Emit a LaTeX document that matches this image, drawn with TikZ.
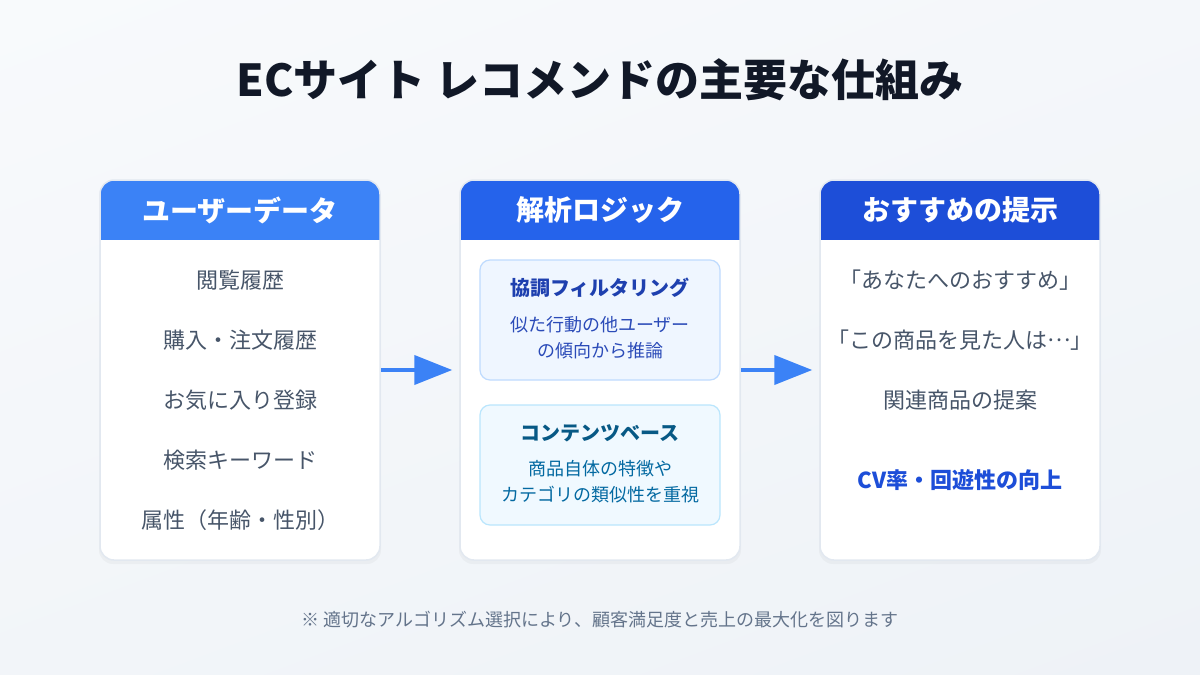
\documentclass[tikz,border=0pt]{standalone}
\usepackage{fontspec}
\setmainfont{Noto Sans CJK JP}
\usetikzlibrary{arrows.meta,shadings}
\definecolor{bgA}{HTML}{F8FAFC}
\definecolor{bgB}{HTML}{EEF2F7}
\definecolor{titlec}{HTML}{111827}
\definecolor{hdrA}{HTML}{3B82F6}
\definecolor{hdrB}{HTML}{2563EB}
\definecolor{hdrC}{HTML}{1D4ED8}
\definecolor{cardborder}{HTML}{E2E8F0}
\definecolor{itemc}{HTML}{475569}
\definecolor{noteC}{HTML}{64748B}
\definecolor{boxAfill}{HTML}{EFF6FF}
\definecolor{boxAline}{HTML}{BFDBFE}
\definecolor{boxAtitle}{HTML}{1E40AF}
\definecolor{boxAtext}{HTML}{2B4BB8}
\definecolor{boxBfill}{HTML}{F0F9FF}
\definecolor{boxBline}{HTML}{BAE6FD}
\definecolor{boxBtitle}{HTML}{075985}
\definecolor{boxBtext}{HTML}{0369A1}
\definecolor{arrowc}{HTML}{3B82F6}
\definecolor{accent}{HTML}{1D4ED8}
\tikzset{
  card/.style={draw=cardborder, line width=1.5pt, fill=white, rounded corners=14pt,
    minimum width=280pt, minimum height=380pt, inner sep=0pt},
  hdrtext/.style={text=white, font=\fontsize{28}{32}\selectfont\bfseries},
  item/.style={text=itemc, font=\fontsize{22}{26}\selectfont},
  innerbox/.style={line width=1.2pt, rounded corners=10pt, minimum width=240pt,
    minimum height=120pt, inner sep=0pt},
  boxtitle/.style={font=\fontsize{20}{24}\selectfont\bfseries},
  boxdesc/.style={font=\fontsize{18}{26}\selectfont, align=center},
  flow/.style={draw=arrowc, line width=4pt, -{Triangle[length=38pt,width=29pt]}, shorten >=7pt}
}
\begin{document}
\begin{tikzpicture}[x=1pt,y=-1pt]
\useasboundingbox (0,0) rectangle (1200,675);
\shade[upper left=bgA, lower right=bgB, upper right=bgA!60!bgB, lower left=bgA!40!bgB] (0,0) rectangle (1200,675);

\node[text=titlec, font=\fontsize{44}{50}\selectfont\bfseries] (title) at (600,80) {ECサイト レコメンドの主要な仕組み};

% shadows
\foreach \cx in {240,600,960}{
  \fill[black, opacity=0.03, rounded corners=14pt] (\cx-141,183) rectangle (\cx+141,564);
}

% cards
\node[card, path picture={\fill[hdrA, sharp corners] (path picture bounding box.north west) rectangle ([yshift=-60pt]path picture bounding box.north east);}] (c1) at (240,370) {};
\node[card, path picture={\fill[hdrB, sharp corners] (path picture bounding box.north west) rectangle ([yshift=-60pt]path picture bounding box.north east);}] (c2) at (600,370) {};
\node[card, path picture={\fill[hdrC, sharp corners] (path picture bounding box.north west) rectangle ([yshift=-60pt]path picture bounding box.north east);}] (c3) at (960,370) {};

\node[hdrtext] (h1) at (240,210) {ユーザーデータ};
\node[hdrtext] (h2) at (600,210) {解析ロジック};
\node[hdrtext] (h3) at (960,210) {おすすめの提示};

% card 1 items
\node[item] (u1) at (240,280) {閲覧履歴};
\node[item] (u2) at (240,340) {購入・注文履歴};
\node[item] (u3) at (240,400) {お気に入り登録};
\node[item] (u4) at (240,460) {検索キーワード};
\node[item] (u5) at (240,520) {属性（年齢・性別）};

% card 2 inner boxes
\node[innerbox, draw=boxAline, fill=boxAfill] (b1) at (600,320) {};
\node[boxtitle, text=boxAtitle] (b1t) at (600,288) {協調フィルタリング};
\node[boxdesc, text=boxAtext] (b1d) at (600,338) {似た行動の他ユーザー\\の傾向から推論};

\node[innerbox, draw=boxBline, fill=boxBfill] (b2) at (600,465) {};
\node[boxtitle, text=boxBtitle] (b2t) at (600,433) {コンテンツベース};
\node[boxdesc, text=boxBtext] (b2d) at (600,482) {商品自体の特徴や\\カテゴリの類似性を重視};

% card 3 items
\node[item] (r1) at (960,280) {「あなたへのおすすめ」};
\node[item] (r2) at (960,340) {「この商品を見た人は\raisebox{0.3em}{…}」};
\node[item] (r3) at (960,400) {関連商品の提案};
\node[text=accent, font=\fontsize{22}{26}\selectfont\bfseries] (r4) at (960,480) {CV率・回遊性の向上};

% arrows
\draw[flow] (c1.east) -- (c2.west);
\draw[flow] (c2.east) -- (c3.west);

\node[text=noteC, font=\fontsize{18}{22}\selectfont] (note) at (600,620) {※ 適切なアルゴリズム選択により、顧客満足度と売上の最大化を図ります};
\end{tikzpicture}
\end{document}
